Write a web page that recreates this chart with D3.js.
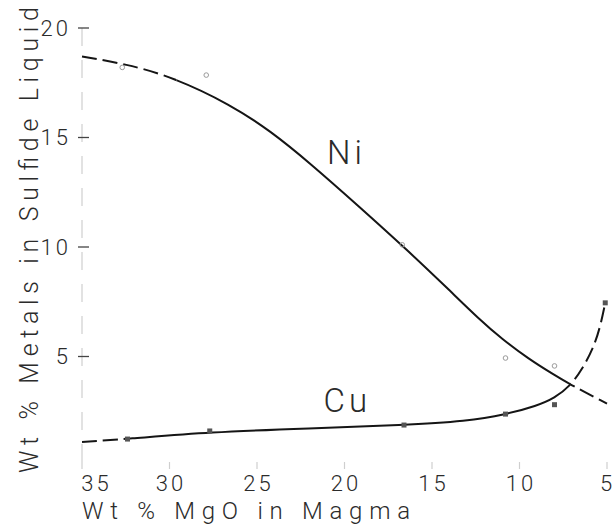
<!DOCTYPE html>
<html><head><meta charset="utf-8">
<script src="https://cdn.jsdelivr.net/npm/d3@7"></script>
<style>
body{margin:0;background:#fff;}
svg{display:block;}
text{font-family:Roboto,"DejaVu Sans",sans-serif;font-weight:300;fill:#2b2b2b;}
</style>
</head><body>
<svg id="c" width="614" height="531"></svg>
<script>
// ---- data ----
const xTicks = [35, 30, 25, 20, 15, 10, 5];
const yTicks = [5, 10, 15, 20];
const xTitle = "Wt % MgO in Magma";
const yTitle = "Wt % Metals in Sulfide Liquid";

// drawn (smoothed) curves
const niCurveMgO = [35, 32.5, 29.8, 26.5, 24.2, 22.0, 19.1, 16.4, 14.1, 12.3, 11.0, 9.5, 8.0, 7.1, 5.0];
const niCurveWt  = [18.7, 18.36, 17.76, 16.5, 15.28, 13.85, 11.8, 9.85, 8.1, 6.7, 5.8, 4.9, 4.15, 3.72, 2.85];
const cuCurveMgO = [35, 32.5, 27.7, 22.0, 16.6, 13.0, 10.8, 9.0, 8.0, 7.1, 6.4, 5.8, 5.4, 5.1];
const cuCurveWt  = [1.1, 1.23, 1.55, 1.72, 1.87, 2.05, 2.35, 2.75, 3.1, 3.65, 4.45, 5.35, 6.3, 7.45];
// MgO range drawn as solid line (dashed outside)
const niSolidRange = [29.6, 7.1];
const cuSolidRange = [32.5, 7.1];

// measured points
const niPtMgO = [32.7, 27.9, 16.7, 10.8, 8.0];
const niPtWt  = [18.2, 17.85, 10.1, 4.93, 4.57];
const cuPtMgO = [32.4, 27.7, 16.6, 10.8, 8.0, 5.1];
const cuPtWt  = [1.23, 1.6, 1.87, 2.37, 2.8, 7.45];

// curve labels
const labelText = ["Ni", "Cu"];
const labelMgO  = [21.0, 21.2];
const labelWt   = [13.8, 2.47];

// ---- drawing ----
const svg = d3.select("#c");
const x = d3.scaleLinear().domain([35, 5]).range([82, 607]);
const y = d3.scaleLinear().domain([0, 20]).range([466, 28]);

// y axis line (faint, broken)
svg.append("line")
  .attr("x1", x(35)).attr("x2", x(35))
  .attr("y1", y(20)).attr("y2", y(0))
  .attr("stroke", "#cacaca").attr("stroke-width", 1.1)
  .attr("stroke-dasharray", "18,14");

// y ticks
const yg = svg.append("g");
yTicks.forEach(t => {
  yg.append("line")
    .attr("x1", x(35) - 4).attr("x2", x(35) + 7)
    .attr("y1", y(t)).attr("y2", y(t))
    .attr("stroke", "#444").attr("stroke-width", 1.3);
  yg.append("text")
    .attr("x", x(35) - 11).attr("y", y(t)).attr("dy", "0.36em")
    .attr("text-anchor", "end")
    .attr("font-size", 22).attr("letter-spacing", 3)
    .text(t);
});

// x ticks (faint)
const xg = svg.append("g");
xTicks.forEach((t, i) => {
  xg.append("line")
    .attr("x1", x(t)).attr("x2", x(t))
    .attr("y1", y(0) - 4).attr("y2", y(0) + 3)
    .attr("stroke", "#cfcfcf").attr("stroke-width", 1.2);
  const last = i === xTicks.length - 1;
  xg.append("text")
    .attr("x", x(t) + (i === 0 ? 13 : 0) + (last ? -1 : 1.5)).attr("y", y(0) + 25)
    .attr("text-anchor", "middle")
    .attr("font-size", 22).attr("letter-spacing", last ? 0 : 3)
    .text(t);
});

// axis titles
svg.append("text")
  .attr("x", x(35)).attr("y", 519)
  .attr("font-size", 24)
  .attr("textLength", 328).attr("lengthAdjust", "spacing")
  .text(xTitle);

svg.append("text")
  .attr("transform", "translate(38,240) rotate(-90)")
  .attr("text-anchor", "middle")
  .attr("font-size", 25)
  .attr("textLength", 466).attr("lengthAdjust", "spacing")
  .text(yTitle);

// curves
const line = d3.line().x(d => x(d[0])).y(d => y(d[1])).curve(d3.curveBasis);
const defs = svg.append("defs");

function drawCurve(id, mgo, wt, solid) {
  const pts = mgo.map((m, i) => [m, wt[i]]);
  const cs = defs.append("clipPath").attr("id", id + "-s");
  cs.append("rect").attr("x", x(solid[0])).attr("y", 0)
    .attr("width", x(solid[1]) - x(solid[0])).attr("height", 531);
  const cd = defs.append("clipPath").attr("id", id + "-d");
  cd.append("rect").attr("x", 0).attr("y", 0)
    .attr("width", x(solid[0])).attr("height", 531);
  cd.append("rect").attr("x", x(solid[1])).attr("y", 0)
    .attr("width", 614 - x(solid[1])).attr("height", 531);
  svg.append("path").datum(pts).attr("d", line)
    .attr("fill", "none").attr("stroke", "#151515").attr("stroke-width", 2)
    .attr("clip-path", `url(#${id}-s)`);
  svg.append("path").datum(pts).attr("d", line)
    .attr("fill", "none").attr("stroke", "#151515").attr("stroke-width", 2)
    .attr("stroke-dasharray", "15,6")
    .attr("clip-path", `url(#${id}-d)`);
}
drawCurve("ni", niCurveMgO, niCurveWt, niSolidRange);
drawCurve("cu", cuCurveMgO, cuCurveWt, cuSolidRange);

// points
svg.append("g").selectAll("circle")
  .data(niPtMgO.map((m, i) => [m, niPtWt[i]]))
  .join("circle")
  .attr("cx", d => x(d[0])).attr("cy", d => y(d[1])).attr("r", 2.3)
  .attr("fill", "none").attr("stroke", "#9a9a9a").attr("stroke-width", 1);

svg.append("g").selectAll("rect")
  .data(cuPtMgO.map((m, i) => [m, cuPtWt[i]]))
  .join("rect")
  .attr("x", d => x(d[0]) - 2.5).attr("y", d => y(d[1]) - 2.5)
  .attr("width", 5).attr("height", 5)
  .attr("fill", "#555");

// labels
labelText.forEach((t, i) => {
  svg.append("text")
    .attr("x", x(labelMgO[i])).attr("y", y(labelWt[i]))
    .attr("font-size", 33).attr("letter-spacing", 4)
    .text(t);
});
</script>
</body></html>
